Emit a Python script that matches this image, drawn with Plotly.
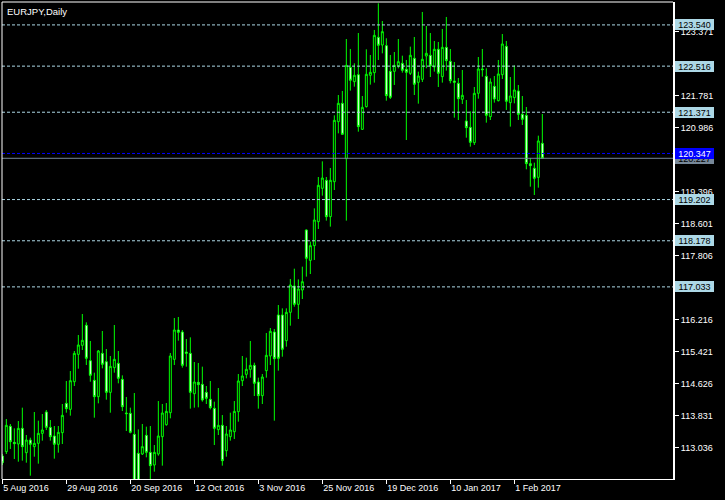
import plotly.graph_objects as go

# ---- data (EURJPY daily candles) ----
opens = [112.832, 112.940, 113.569, 113.171, 113.130, 113.519, 112.915, 113.229, 113.064, 113.147,
         113.395, 113.925, 113.544, 113.329, 113.122, 113.412, 114.140, 113.991, 114.678, 115.357,
         115.581, 116.078, 115.200, 114.712, 114.306, 115.382, 115.175, 114.413, 115.026, 115.134,
         114.736, 113.900, 113.892, 113.370, 112.898, 112.882, 113.345, 112.923, 112.608, 112.882,
         113.312, 113.610, 113.908, 115.233, 115.962, 115.912, 115.415, 115.382, 114.380, 114.662,
         114.612, 114.413, 114.240, 114.016, 113.486, 113.594, 112.964, 113.312, 113.436, 113.933,
         114.703, 114.861, 114.985, 115.084, 114.670, 114.331, 114.952, 115.316, 115.912, 116.334,
         116.334, 115.697, 116.401, 117.055, 116.599, 116.955, 118.446, 117.692, 118.057, 118.653,
         119.481, 119.680, 118.777, 119.646, 121.137, 121.592, 120.218, 122.486, 122.130, 122.304,
         120.946, 121.509, 122.288, 122.354, 123.232, 123.041, 123.025, 122.387, 122.387, 122.528,
         122.586, 122.437, 122.337, 122.710, 122.114, 122.188, 122.768, 122.785, 122.495, 122.934,
         122.255, 122.983, 122.635, 122.147, 122.089, 121.692, 121.153, 120.996, 120.615, 121.841,
         122.445, 122.263, 121.261, 122.014, 121.658, 122.304, 123.008, 121.609, 121.733, 121.899,
         121.319, 121.294, 120.094, 119.978, 119.754, 120.599]
highs = [112.882, 113.751, 113.627, 113.519, 113.701, 114.033, 113.354, 113.287, 113.925, 113.710,
         113.875, 113.975, 113.726, 113.577, 113.577, 114.124, 114.695, 114.943, 115.440, 115.838,
         116.359, 116.152, 115.689, 114.902, 115.465, 115.937, 115.490, 115.316, 116.086, 115.440,
         114.836, 114.298, 114.033, 114.397, 113.494, 113.627, 113.561, 113.577, 113.105, 114.198,
         114.124, 114.148, 115.390, 116.260, 116.285, 115.962, 115.738, 115.780, 115.167, 115.142,
         115.051, 114.571, 114.695, 114.182, 114.521, 113.850, 113.577, 113.908, 114.198, 114.869,
         115.316, 115.275, 115.689, 115.150, 114.778, 114.869, 115.887, 116.011, 115.987, 116.583,
         116.500, 116.500, 117.229, 117.485, 117.220, 117.535, 118.460, 118.156, 118.984, 119.762,
         120.151, 119.762, 119.986, 121.294, 121.799, 121.899, 123.190, 122.942, 122.586, 123.339,
         121.774, 122.934, 122.793, 123.414, 124.076, 123.637, 123.207, 122.793, 122.867, 123.190,
         122.776, 122.669, 123.000, 123.240, 122.379, 123.861, 123.513, 123.339, 123.141, 123.116,
         123.439, 123.737, 122.942, 122.619, 122.221, 122.420, 121.675, 121.393, 121.998, 122.743,
         122.942, 122.462, 122.213, 122.271, 122.669, 123.314, 123.141, 122.246, 122.536, 122.048,
         121.774, 121.501, 120.234, 120.118, 120.789, 121.327]
lows = [112.608, 112.882, 113.006, 112.757, 112.691, 112.716, 112.666, 112.343, 112.815, 112.642,
        113.213, 113.478, 113.213, 112.766, 112.915, 113.130, 113.908, 113.834, 114.571, 115.001,
        115.465, 115.092, 114.678, 113.784, 114.140, 115.010, 114.231, 113.908, 114.902, 114.637,
        113.950, 113.453, 113.395, 111.990, 112.000, 112.857, 112.799, 112.236, 112.443, 112.840,
        112.592, 113.585, 113.768, 115.092, 115.697, 115.026, 115.051, 114.008, 114.033, 114.041,
        114.182, 114.124, 113.991, 113.105, 113.354, 112.592, 112.815, 113.213, 113.254, 113.685,
        114.571, 114.761, 114.778, 114.322, 114.008, 114.124, 114.778, 115.092, 113.710, 114.952,
        115.299, 115.548, 116.069, 116.541, 116.235, 116.732, 117.287, 117.353, 117.701, 118.471,
        119.299, 118.678, 118.529, 119.439, 120.847, 120.810, 118.678, 121.907, 122.006, 120.888,
        120.930, 121.490, 122.056, 122.106, 122.669, 122.834, 121.658, 121.700, 122.048, 122.462,
        122.354, 120.681, 122.296, 121.799, 121.584, 122.122, 122.462, 122.246, 122.379, 121.998,
        122.106, 122.404, 122.089, 121.236, 121.178, 121.576, 120.739, 120.516, 120.557, 121.708,
        122.255, 121.112, 121.178, 121.609, 121.640, 122.197, 121.427, 121.013, 121.592, 121.178,
        121.054, 119.953, 119.522, 119.315, 119.497, 120.220]
closes = [112.666, 113.594, 113.188, 113.138, 113.519, 113.064, 113.229, 113.122, 113.147, 113.395,
          113.478, 113.544, 113.312, 113.122, 113.420, 113.842, 114.008, 114.703, 115.382, 115.589,
          115.705, 115.258, 114.836, 114.306, 115.440, 115.109, 114.413, 115.059, 115.233, 114.761,
          114.057, 113.884, 113.420, 112.150, 112.100, 113.064, 112.923, 112.592, 112.923, 113.329,
          113.900, 113.941, 115.316, 115.962, 115.904, 115.084, 115.382, 114.413, 114.670, 114.604,
          114.223, 114.264, 114.033, 113.519, 113.594, 112.716, 113.378, 113.478, 113.941, 114.695,
          114.819, 114.985, 115.084, 114.637, 114.331, 114.794, 115.333, 115.929, 115.250, 115.258,
          115.482, 116.401, 117.080, 116.599, 116.980, 117.162, 117.742, 118.057, 118.694, 119.555,
          119.737, 118.777, 119.680, 121.170, 121.592, 120.822, 122.536, 122.164, 122.288, 121.013,
          121.493, 122.313, 122.362, 123.281, 123.033, 123.372, 121.783, 121.741, 122.536, 122.627,
          122.412, 122.362, 122.785, 122.064, 122.271, 122.685, 122.834, 122.520, 122.934, 122.337,
          122.983, 122.652, 122.155, 122.114, 121.708, 121.791, 120.988, 120.623, 121.841, 122.445,
          122.428, 121.294, 122.122, 121.700, 122.321, 123.066, 121.642, 121.774, 121.923, 121.319,
          121.195, 120.094, 120.044, 119.729, 120.657, 120.227]
bar_index = list(range(len(opens)))

date_tick_index = [0, 16, 32, 48, 64, 80, 96, 112, 128]
date_tick_labels = ["5 Aug 2016", "29 Aug 2016", "20 Sep 2016", "12 Oct 2016", "3 Nov 2016",
                    "25 Nov 2016", "19 Dec 2016", "10 Jan 2017", "1 Feb 2017"]
# price scale labels visible in the reference (the others are hidden behind level labels)
price_ticks = [113.036, 113.831, 114.626, 115.421, 116.216, 117.806,
               118.601, 119.396, 120.986, 121.781, 123.371]
level_lines = [123.540, 122.516, 121.371, 119.202, 118.178, 117.033]
ask_price = 120.347
bid_price = 120.227
title_text = "EURJPY,Daily"

FONT = "Liberation Sans"
GREEN = "#00FF00"
LEVEL_COLOR = "#ADD8E6"

fig = go.Figure(go.Candlestick(
    x=bar_index, open=opens, high=highs, low=lows, close=closes,
    increasing=dict(line=dict(color=GREEN, width=1), fillcolor="black"),
    decreasing=dict(line=dict(color=GREEN, width=1), fillcolor="white"),
    whiskerwidth=0, hoverinfo="skip", showlegend=False,
))

shapes = []
for lv in level_lines:
    shapes.append(dict(type="line", xref="paper", x0=0, x1=1, yref="y", y0=lv, y1=lv,
                       line=dict(color=LEVEL_COLOR, width=1, dash="3px,2px"), layer="above"))
shapes.append(dict(type="line", xref="paper", x0=0, x1=1, yref="y", y0=ask_price, y1=ask_price,
                   line=dict(color="#0000FF", width=1, dash="3px,2px"), layer="above"))
shapes.append(dict(type="line", xref="paper", x0=0, x1=1, yref="y", y0=bid_price, y1=bid_price,
                   line=dict(color="#778899", width=1), layer="above"))
# frame: top and left edges
shapes.append(dict(type="line", xref="paper", yref="paper", x0=0, x1=1, y0=1, y1=1,
                   line=dict(color="white", width=1)))
shapes.append(dict(type="line", xref="paper", yref="paper", x0=0, x1=0, y0=0, y1=1,
                   line=dict(color="white", width=1)))

annotations = []
def price_label(value, bg, fg):
    return dict(xref="paper", x=1, xanchor="left", xshift=2, yref="y", y=value, yanchor="middle",
                text=f"{value:.3f}", showarrow=False, bgcolor=bg, borderpad=1, borderwidth=0,
                width=37, height=9, align="center",
                font=dict(family=FONT, size=9, color=fg))

for lv in level_lines:
    annotations.append(price_label(lv, LEVEL_COLOR, "black"))
annotations.append(price_label(bid_price, "#778899", "black"))
annotations.append(price_label(ask_price, "#0000FF", "white"))
annotations.append(dict(xref="paper", yref="paper", x=0, y=1, xanchor="left", yanchor="top",
                        xshift=3, yshift=-2, text=title_text, showarrow=False,
                        font=dict(family=FONT, size=9.5, color="white")))

fig.update_layout(
    width=725, height=500,
    margin=dict(l=2, r=52, t=2, b=21, pad=0),
    paper_bgcolor="black", plot_bgcolor="black",
    showlegend=False,
    shapes=shapes, annotations=annotations,
    xaxis=dict(range=[-0.083, 167.667], tickvals=date_tick_index, ticktext=date_tick_labels,
               ticks="outside", ticklen=4, tickcolor="white", tickwidth=1,
               ticklabelposition="outside right",
               tickfont=dict(family=FONT, size=9, color="white"),
               showgrid=False, zeroline=False, showline=True, linecolor="white", linewidth=1,
               rangeslider=dict(visible=False), fixedrange=True),
    yaxis=dict(side="right", range=[112.261, 124.109], tickvals=price_ticks,
               ticktext=[f"{v:.3f}" for v in price_ticks],
               ticks="outside", ticklen=4, tickcolor="white", tickwidth=1,
               tickfont=dict(family=FONT, size=9, color="white"),
               showgrid=False, zeroline=False, showline=True, linecolor="white", linewidth=2,
               fixedrange=True),
)

fig.write_html(
    "out.html",
    config={"displayModeBar": False},
    post_script="document.body.style.margin='0';document.body.style.overflow='hidden';",
)
